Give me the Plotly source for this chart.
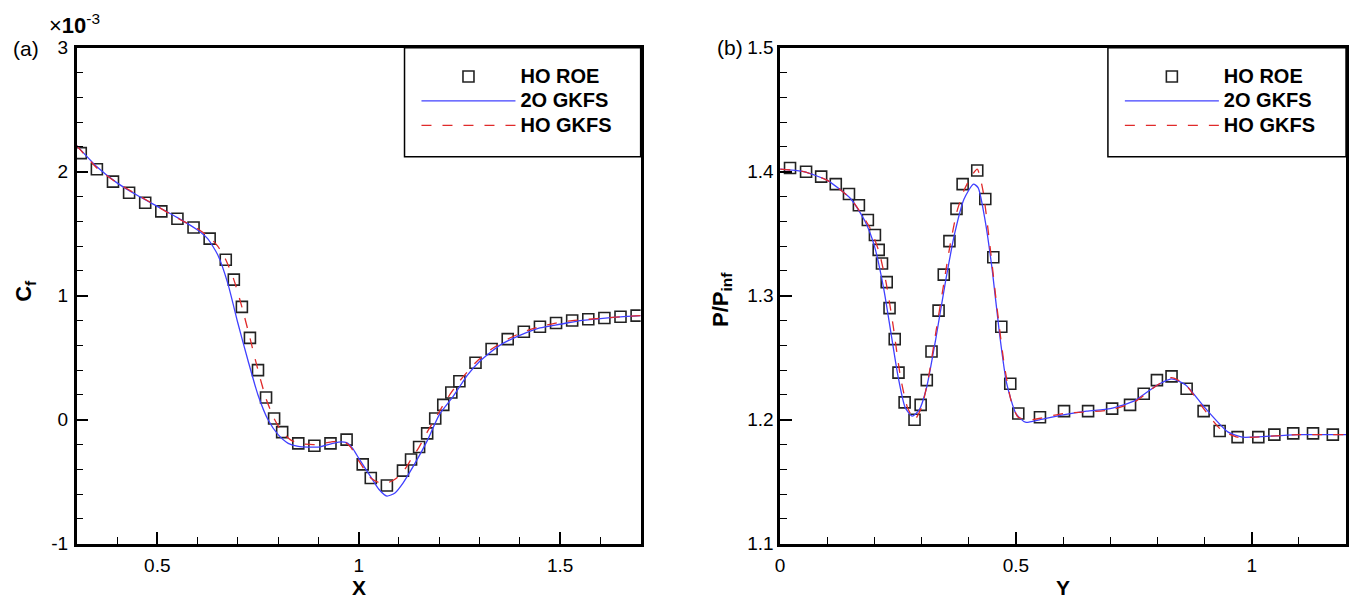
import plotly.graph_objects as go

# ---------------- (a) skin friction along X ----------------
roe_x = [0.31, 0.35, 0.39, 0.43, 0.47, 0.51, 0.55, 0.59, 0.63, 0.67, 0.69, 0.71,
         0.73, 0.75, 0.77, 0.79, 0.81, 0.85, 0.89, 0.93, 0.97, 1.01, 1.03, 1.07,
         1.11, 1.13, 1.15, 1.17, 1.19, 1.21, 1.23, 1.25, 1.29, 1.33, 1.37, 1.41,
         1.45, 1.49, 1.53, 1.57, 1.61, 1.65, 1.69]
roe_cf = [2.15, 2.02, 1.92, 1.83, 1.75, 1.68, 1.62, 1.55, 1.46, 1.29, 1.13, 0.91,
          0.66, 0.40, 0.18, 0.01, -0.10, -0.19, -0.21, -0.19, -0.16, -0.36, -0.47, -0.53,
          -0.41, -0.32, -0.22, -0.11, 0.01, 0.12, 0.22, 0.31, 0.46, 0.57, 0.65, 0.71,
          0.75, 0.78, 0.80, 0.81, 0.82, 0.83, 0.84]

gk2_x = [0.30, 0.35, 0.40, 0.45, 0.50, 0.55, 0.60, 0.625, 0.65, 0.675, 0.70, 0.725,
         0.75, 0.775, 0.80, 0.825, 0.85, 0.90, 0.95, 0.97, 0.985, 1.00, 1.03, 1.05,
         1.07, 1.09, 1.11, 1.14, 1.17, 1.20, 1.235, 1.27, 1.30, 1.35, 1.40, 1.45,
         1.50, 1.55, 1.60, 1.65, 1.70]
gk2_cf = [2.21, 2.04, 1.91, 1.81, 1.72, 1.63, 1.53, 1.46, 1.33, 1.10, 0.78, 0.48,
          0.20, 0.00, -0.12, -0.19, -0.215, -0.22, -0.18, -0.185, -0.23, -0.31, -0.46, -0.56,
          -0.615, -0.59, -0.51, -0.35, -0.17, 0.04, 0.19, 0.36, 0.47, 0.60, 0.68, 0.74,
          0.77, 0.80, 0.815, 0.83, 0.84]

gkh_x = [0.30, 0.35, 0.40, 0.45, 0.50, 0.55, 0.60, 0.63, 0.65, 0.67, 0.69, 0.71,
         0.73, 0.75, 0.77, 0.79, 0.81, 0.83, 0.85, 0.89, 0.93, 0.96, 0.98, 1.00,
         1.03, 1.05, 1.07, 1.09, 1.11, 1.13, 1.15, 1.17, 1.19, 1.21, 1.23, 1.25,
         1.29, 1.33, 1.37, 1.41, 1.45, 1.49, 1.53, 1.57, 1.61, 1.65, 1.70]
gkh_cf = [2.21, 2.03, 1.91, 1.815, 1.72, 1.625, 1.54, 1.47, 1.40, 1.29, 1.13, 0.91,
          0.66, 0.40, 0.17, 0.01, -0.10, -0.16, -0.19, -0.20, -0.18, -0.17, -0.22, -0.33,
          -0.47, -0.505, -0.51, -0.48, -0.42, -0.32, -0.22, -0.10, 0.01, 0.12, 0.22, 0.31,
          0.46, 0.57, 0.65, 0.71, 0.75, 0.78, 0.80, 0.81, 0.82, 0.83, 0.84]

# ---------------- (b) pressure ratio along Y ----------------
roe_y = [0.021, 0.055, 0.087, 0.118, 0.146, 0.167, 0.186, 0.201, 0.209, 0.216, 0.226, 0.232,
         0.243, 0.251, 0.264, 0.285, 0.298, 0.311, 0.321, 0.336, 0.347, 0.359, 0.374, 0.387,
         0.418, 0.435, 0.452, 0.469, 0.488, 0.505, 0.551, 0.602, 0.653, 0.704, 0.742, 0.771,
         0.799, 0.830, 0.862, 0.898, 0.932, 0.970, 1.014, 1.048, 1.088, 1.130, 1.172]
roe_p = [1.403, 1.400, 1.396, 1.390, 1.382, 1.373, 1.361, 1.349, 1.337, 1.326, 1.311, 1.290,
         1.265, 1.238, 1.214, 1.200, 1.212, 1.232, 1.255, 1.288, 1.317, 1.344, 1.370, 1.390,
         1.401, 1.378, 1.331, 1.275, 1.229, 1.205, 1.202, 1.207, 1.207, 1.209, 1.212, 1.221,
         1.232, 1.235, 1.225, 1.207, 1.191, 1.186, 1.186, 1.188, 1.189, 1.189, 1.188]

gk2_y = [0.00, 0.05, 0.10, 0.15, 0.18, 0.20, 0.22, 0.235, 0.25, 0.265, 0.28, 0.295,
         0.31, 0.33, 0.35, 0.37, 0.39, 0.41, 0.42, 0.435, 0.45, 0.465, 0.48, 0.50,
         0.52, 0.55, 0.60, 0.65, 0.70, 0.75, 0.80, 0.83, 0.86, 0.90, 0.95, 0.98,
         1.00, 1.05, 1.10, 1.15, 1.20]
gk2_p = [1.402, 1.400, 1.393, 1.378, 1.360, 1.340, 1.305, 1.270, 1.235, 1.210, 1.203, 1.208,
         1.225, 1.265, 1.310, 1.350, 1.378, 1.390, 1.387, 1.360, 1.320, 1.270, 1.230, 1.205,
         1.198, 1.200, 1.204, 1.207, 1.209, 1.215, 1.228, 1.233, 1.228, 1.210, 1.190, 1.186,
         1.186, 1.187, 1.188, 1.188, 1.188]

gkh_y = [0.00, 0.05, 0.10, 0.15, 0.19, 0.21, 0.225, 0.24, 0.255, 0.27, 0.285, 0.30,
         0.315, 0.33, 0.345, 0.36, 0.375, 0.39, 0.405, 0.418, 0.43, 0.445, 0.46, 0.475,
         0.49, 0.505, 0.53, 0.60, 0.70, 0.75, 0.80, 0.83, 0.86, 0.90, 0.935, 0.97,
         1.01, 1.05, 1.10, 1.20]
gkh_p = [1.402, 1.400, 1.393, 1.378, 1.355, 1.335, 1.310, 1.275, 1.235, 1.210, 1.200, 1.210,
         1.235, 1.270, 1.305, 1.340, 1.368, 1.385, 1.396, 1.402, 1.385, 1.340, 1.290, 1.245,
         1.215, 1.202, 1.200, 1.205, 1.208, 1.214, 1.228, 1.234, 1.228, 1.208, 1.192, 1.186,
         1.186, 1.187, 1.188, 1.188]

names = ["HO ROE", "2O GKFS", "HO GKFS"]

cf_ticks = [-1, 0, 1, 2, 3]
cf_ticktext = ["-1", "0", "1", "2", "3"]
p_ticks = [1.1, 1.2, 1.3, 1.4, 1.5]
p_ticktext = ["1.1", "1.2", "1.3", "1.4", "1.5"]

W, H = 1355, 605
FONT = "Liberation Sans, Arial, Helvetica, sans-serif"
BLUE = "#4040ff"
RED = "#e02a2a"


def px(x):
    return x / W


def py(y):
    return (H - y) / H


fig = go.Figure()


def big(s):
    # larger glyphs inside a legend row of fixed height
    return "<span style='font-size:20px'>" + s + "</span>"


def add_panel(xs, ys, x2, y2, x3, y3, xa, ya, leg):
    fig.add_trace(go.Scatter(
        x=xs, y=ys, mode="markers", name=big(names[0]), xaxis=xa, yaxis=ya, legend=leg,
        marker=dict(symbol="square-open", size=11, color="#222222",
                    line=dict(width=1.6, color="#222222"))))
    fig.add_trace(go.Scatter(
        x=x2, y=y2, mode="lines", name=big(names[1]), xaxis=xa, yaxis=ya, legend=leg,
        line=dict(color=BLUE, width=1.3, shape="spline", smoothing=0.6)))
    fig.add_trace(go.Scatter(
        x=x3, y=y3, mode="lines", name=big(names[2]), xaxis=xa, yaxis=ya, legend=leg,
        line=dict(color=RED, width=1.3, dash="10px,11px", shape="spline", smoothing=0.6)))


add_panel(roe_x, roe_cf, gk2_x, gk2_cf, gkh_x, gkh_cf, "x", "y", "legend")
add_panel(roe_y, roe_p, gk2_y, gk2_p, gkh_y, gkh_p, "x2", "y2", "legend2")

minor_style = dict(ticks="inside", ticklen=7, tickwidth=1, tickcolor="black")
axis_common = dict(
    showline=True, linecolor="black", linewidth=2.5, mirror=True,
    ticks="inside", ticklen=12, tickwidth=2, tickcolor="black",
    showgrid=False, zeroline=False,
    tickfont=dict(family=FONT, size=19, color="black"),
)

L = (72, 638)
R = (778, 1346)
TOP, BOT = 39, 553

fig.update_layout(
    width=W, height=H,
    margin=dict(l=0, r=0, t=0, b=0),
    paper_bgcolor="white", plot_bgcolor="white",
    xaxis=dict(domain=[px(L[0]), px(L[1])], range=[0.3, 1.7], anchor="y",
               tickvals=[0.5, 1, 1.5], ticktext=["0.5", "1", "1.5"], ticklabelstandoff=3,
               minor=dict(dtick=0.1, tick0=0, **minor_style), **axis_common),
    yaxis=dict(domain=[py(BOT), py(TOP)], range=[-1, 3], anchor="x",
               tickvals=cf_ticks, ticktext=cf_ticktext, ticklabelstandoff=2,
               minor=dict(dtick=0.2, tick0=0, **minor_style), **axis_common),
    xaxis2=dict(domain=[px(R[0]), px(R[1])], range=[0, 1.2], anchor="y2",
                tickvals=[0, 0.5, 1], ticktext=["0", "0.5", "1"], ticklabelstandoff=3,
                minor=dict(dtick=0.1, tick0=0, **minor_style), **axis_common),
    yaxis2=dict(domain=[py(BOT), py(TOP)], range=[1.1, 1.5], anchor="x2",
                tickvals=p_ticks, ticktext=p_ticktext, ticklabelstandoff=0,
                minor=dict(dtick=0.02, tick0=1.1, **minor_style), **axis_common),
    legend=dict(x=px(413), y=py(51), xanchor="left", yanchor="top",
                bgcolor="rgba(0,0,0,0)", borderwidth=0, itemwidth=94,
                font=dict(family=FONT, size=16.5, color="black", weight="bold"),
                tracegroupgap=0),
    legend2=dict(x=px(1119), y=py(51), xanchor="left", yanchor="top",
                 bgcolor="rgba(0,0,0,0)", borderwidth=0, itemwidth=94,
                 font=dict(family=FONT, size=16.5, color="black", weight="bold"),
                 tracegroupgap=0),
    showlegend=True,
)

# legend frames
for x0, x1 in [(401, L[1]), (1107, R[1])]:
    fig.add_shape(type="rect", xref="paper", yref="paper",
                  x0=px(x0), x1=px(x1), y0=py(152), y1=py(TOP),
                  line=dict(color="black", width=1.5), fillcolor="rgba(0,0,0,0)", layer="above")

ann = [
    dict(text="(a)", x=px(21), y=py(40), font=dict(size=21)),
    dict(text="(b)", x=px(728), y=py(39), font=dict(size=21)),
    dict(text="×<b>10</b><sup>-3</sup>", x=px(70), y=py(14), font=dict(size=22)),
    dict(text="<b>X</b>", x=px((L[0] + L[1]) / 2), y=py(598), font=dict(size=21)),
    dict(text="<b>Y</b>", x=px((R[0] + R[1]) / 2), y=py(598), font=dict(size=21)),
    dict(text="<b>C<sub>f</sub></b>", x=px(20), y=py(291), font=dict(size=22), textangle=-90),
    dict(text="<b>P/P<sub>inf</sub></b>", x=px(719), y=py(300), font=dict(size=22), textangle=-90),
]
for a in ann:
    a["font"].update(family=FONT, color="black")
    fig.add_annotation(xref="paper", yref="paper", showarrow=False,
                       xanchor="center", yanchor="middle", **a)

fig.write_html("out.html")
